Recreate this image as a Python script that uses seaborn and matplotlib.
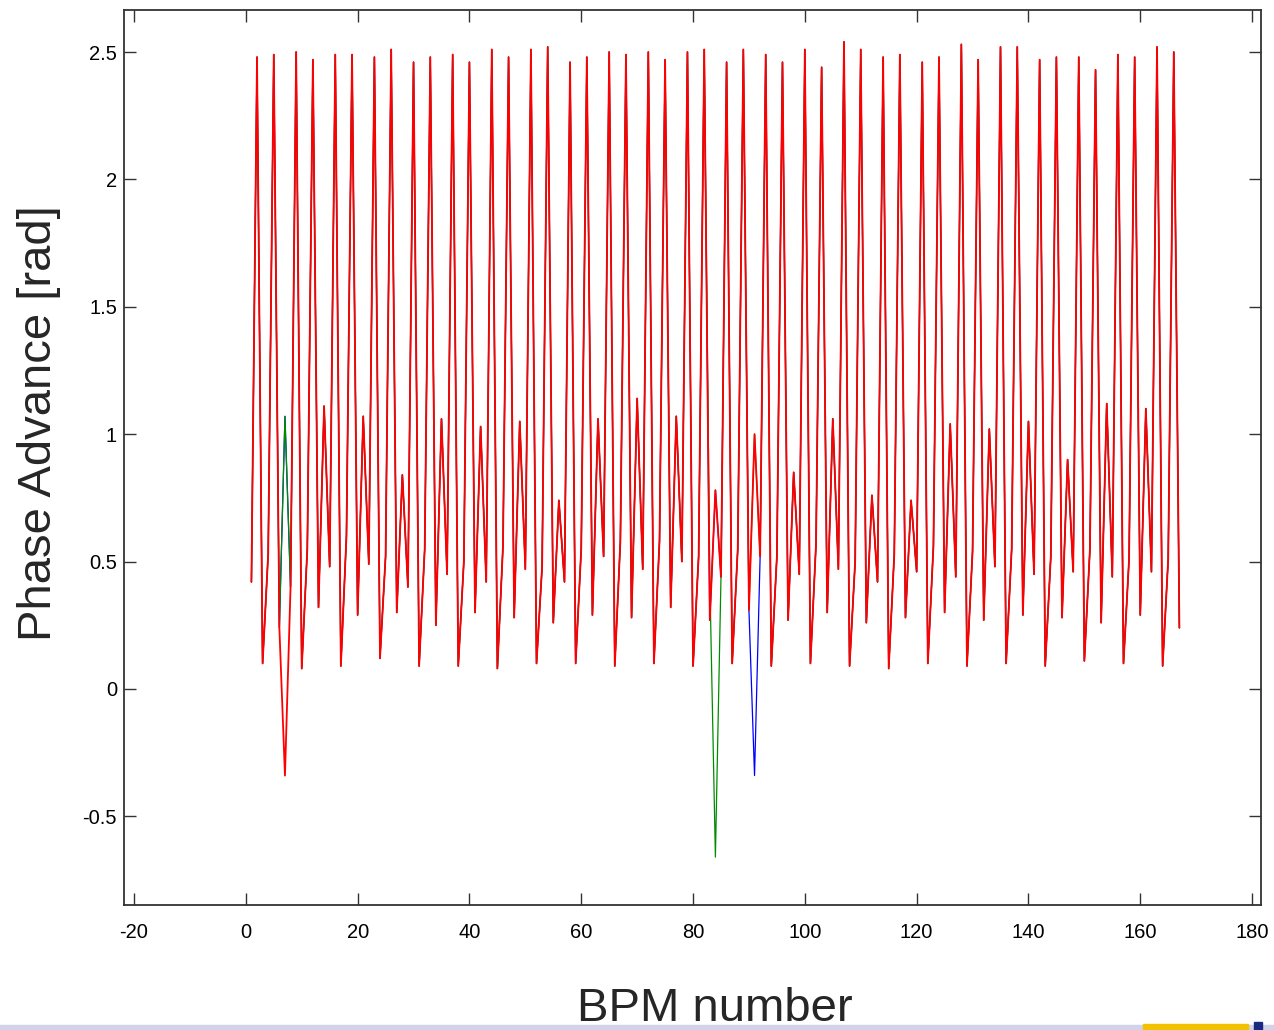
import numpy as np
import pandas as pd
import matplotlib
matplotlib.use("Agg")
import matplotlib.pyplot as plt
from matplotlib.patches import Rectangle
import seaborn as sns

# BPM index 1..167
bpm = np.arange(1, 168)

# red series (phase advance, rad), one row per 7-BPM cell:
# [k1, peak1, trough, k4, peak2, k6, mid]
red_phase = [
    0.42, 2.48, 0.10, 0.53, 2.49, 0.24, -0.34,
    0.40, 2.50, 0.08, 0.55, 2.47, 0.32, 1.11,
    0.48, 2.49, 0.09, 0.60, 2.49, 0.29, 1.07,
    0.49, 2.48, 0.12, 0.52, 2.51, 0.30, 0.84,
    0.40, 2.46, 0.09, 0.55, 2.48, 0.25, 1.06,
    0.45, 2.49, 0.09, 0.50, 2.46, 0.30, 1.03,
    0.42, 2.51, 0.08, 0.56, 2.48, 0.28, 1.05,
    0.47, 2.51, 0.10, 0.48, 2.52, 0.26, 0.74,
    0.42, 2.46, 0.10, 0.55, 2.48, 0.29, 1.06,
    0.52, 2.50, 0.09, 0.58, 2.49, 0.28, 1.14,
    0.47, 2.50, 0.10, 0.58, 2.47, 0.32, 1.07,
    0.50, 2.50, 0.09, 0.52, 2.51, 0.27, 0.78,
    0.44, 2.46, 0.10, 0.55, 2.51, 0.31, 1.00,
    0.52, 2.49, 0.09, 0.52, 2.46, 0.27, 0.85,
    0.45, 2.51, 0.10, 0.57, 2.44, 0.30, 1.06,
    0.47, 2.54, 0.09, 0.50, 2.51, 0.26, 0.76,
    0.42, 2.48, 0.08, 0.53, 2.49, 0.28, 0.74,
    0.46, 2.46, 0.10, 0.56, 2.48, 0.30, 1.04,
    0.44, 2.53, 0.09, 0.54, 2.47, 0.27, 1.02,
    0.48, 2.52, 0.10, 0.55, 2.52, 0.29, 1.05,
    0.45, 2.47, 0.09, 0.52, 2.48, 0.28, 0.90,
    0.46, 2.48, 0.11, 0.55, 2.43, 0.26, 1.12,
    0.44, 2.49, 0.10, 0.51, 2.48, 0.29, 1.10,
    0.46, 2.52, 0.09, 0.51, 2.50, 0.24,
]

# where the green and blue measurements differ from red: (bpm, value)
green_diff = [(7, 1.07), (83, 0.43), (84, -0.66)]
blue_diff = [(7, 1.07), (91, -0.34)]

series_names = ["blue", "green", "red"]
series_colors = ["#0000ff", "#008c00", "#ff0000"]
series_widths = [0.9, 0.9, 1.3]

xticks = [-20, 0, 20, 40, 60, 80, 100, 120, 140, 160, 180]
xtick_labels = ["-20", "0", "20", "40", "60", "80", "100", "120", "140", "160", "180"]
yticks = [-0.5, 0, 0.5, 1, 1.5, 2, 2.5]
ytick_labels = ["-0.5", "0", "0.5", "1", "1.5", "2", "2.5"]

# build the three series
green_phase = list(red_phase)
for b, v in green_diff:
    green_phase[b - 1] = v
blue_phase = list(red_phase)
for b, v in blue_diff:
    blue_phase[b - 1] = v
phases = {"blue": blue_phase, "green": green_phase, "red": red_phase}

sns.set_theme(style="ticks")
plt.rcParams["font.family"] = ["Liberation Sans", "DejaVu Sans"]
plt.rcParams["axes.unicode_minus"] = False

fig = plt.figure(figsize=(12.74, 10.30), dpi=100)
ax = fig.add_axes([0.0973, 0.1214, 0.8925, 0.8689])

# blue first, red last (on top)
for name, col, lw in zip(series_names, series_colors, series_widths):
    sns.lineplot(x=bpm, y=phases[name], color=col, linewidth=lw,
                 estimator=None, sort=False, ax=ax)

ax.set_xlim(-21.8, 181.6)
ax.set_ylim(-0.848, 2.665)
ax.set_xticks(xticks)
ax.set_xticklabels(xtick_labels)
ax.set_yticks(yticks)
ax.set_yticklabels(ytick_labels)
ax.set_xlabel("")
ax.set_ylabel("")

ax.tick_params(direction="in", length=8.6, width=1.0, color="#333333",
               top=True, right=True, labelsize=14.5, labelcolor="black")
ax.tick_params(axis="x", pad=13)
ax.tick_params(axis="y", pad=5)
for s in ax.spines.values():
    s.set_linewidth(1.3)
    s.set_color("#333333")

fig.text(39 / 1274, 1 - 423 / 1030, "Phase Advance [rad]", rotation=90,
         ha="center", va="center", fontsize=34)
fig.text(715 / 1274, 1 - 1021 / 1030, "BPM number", ha="center",
         va="baseline", fontsize=34)

# slide footer strip
fig.patches.append(Rectangle((0, 0), 1, 5 / 1030, transform=fig.transFigure,
                             color="#d2d2ea", zorder=-1))
fig.patches.append(Rectangle((1143 / 1274, 0), 105 / 1274, 6 / 1030,
                             transform=fig.transFigure, color="#f2c200", zorder=-1))
fig.patches.append(Rectangle((1254 / 1274, 0), 8 / 1274, 8 / 1030,
                             transform=fig.transFigure, color="#1a2a80", zorder=-1))

fig.savefig("out.png", dpi=100)
